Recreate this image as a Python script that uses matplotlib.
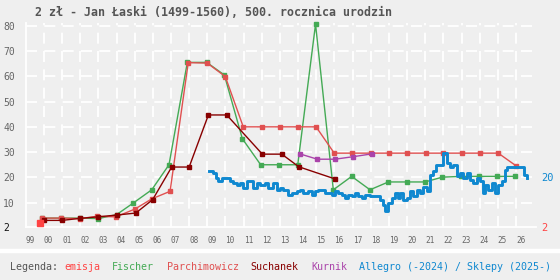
import matplotlib
matplotlib.use('Agg')
import matplotlib.pyplot as plt
from matplotlib.lines import Line2D

plt.rcParams['font.family'] = ['DejaVu Sans Mono', 'DejaVu Sans']
plt.rcParams['lines.scale_dashes'] = False

BG = '#efefef'
C_EMISJA = '#ff4444'
C_FISCHER = '#44aa55'
C_PARCH = '#e05050'
C_SUCH = '#880000'
C_KURNIK = '#aa44aa'
C_ALLEGRO = '#0f88d0'

title = "2 zł - Jan Łaski (1499-1560), 500. rocznica urodzin"

years = list(range(1999, 2027))
year_labels = ["%02d" % (y % 100) for y in years]
y_ticks = [10, 20, 30, 40, 50, 60, 70, 80]

emisja_x = [1999.8]
emisja_y = [2]

fischer_x = [1999.91, 2000.93, 2001.99, 2003.0, 2004.01, 2004.93, 2005.94, 2006.89,
             2007.9, 2008.97, 2009.94, 2010.93, 2011.94, 2012.96, 2013.98, 2014.96,
             2015.94, 2016.95, 2017.96, 2018.97, 2019.98, 2020.99, 2021.94, 2022.96,
             2023.98, 2024.97, 2025.93]
fischer_y = [3.9, 3.9, 3.9, 3.7, 5.3, 9.9, 15.1, 25.0,
             65.5, 65.5, 60.5, 35.3, 25.0, 25.0, 25.0, 80.6,
             15.1, 20.4, 15.1, 18.2, 18.2, 18.2, 20.1, 20.4,
             20.4, 20.4, 20.4]

parch_x = [1999.91, 2000.93, 2001.99, 2002.94, 2003.97, 2005.02, 2005.94, 2006.95,
           2007.95, 2009.0, 2009.99, 2010.98, 2011.99, 2013.0, 2014.0, 2014.99,
           2015.99, 2016.98, 2017.99, 2019.02, 2020.01, 2021.03, 2022.0, 2023.01,
           2024.0, 2025.02, 2025.98]
parch_y = [3.9, 3.9, 3.7, 4.6, 4.4, 7.5, 11.5, 14.5,
           65.4, 65.2, 59.9, 40.0, 40.0, 40.0, 40.0, 40.0,
           29.6, 29.6, 29.6, 29.6, 29.6, 29.6, 29.6, 29.6,
           29.6, 29.6, 24.7]

such_x = [2000.0, 2001.0, 2001.99, 2003.0, 2004.0, 2005.06, 2005.99, 2007.04, 2008.0,
          2009.06, 2010.07, 2012.03, 2013.1, 2014.04, 2016.03]
such_y = [3.0, 3.0, 3.8, 4.4, 5.1, 5.9, 11.2, 24.1, 24.1,
          44.7, 44.7, 29.2, 29.2, 24.2, 19.4]

kurnik_x = [2014.1, 2015.06, 2016.03, 2017.04, 2018.05]
kurnik_y = [29.3, 27.2, 27.2, 28.2, 29.3]

allegro_x = [2009.09, 2009.31, 2009.48, 2009.59, 2009.81, 2010.08, 2010.25, 2010.42, 2010.64, 2010.80,
             2010.97, 2011.19, 2011.35, 2011.52, 2011.74, 2011.90, 2012.18, 2012.34, 2012.62, 2012.84,
             2013.00, 2013.17, 2013.44, 2013.66, 2013.94, 2014.10, 2014.27, 2014.55, 2014.77, 2014.93,
             2015.10, 2015.32, 2015.48, 2015.65, 2015.87, 2016.03, 2016.20, 2016.42, 2016.58, 2016.75,
             2016.97, 2017.13, 2017.30, 2017.52, 2017.68, 2017.96, 2018.23, 2018.51, 2018.68, 2018.79,
             2018.95, 2019.17, 2019.34, 2019.50, 2019.61, 2019.78, 2020.00, 2020.16, 2020.33, 2020.55,
             2020.71, 2020.88, 2021.10, 2021.26, 2021.43, 2021.59, 2021.81, 2021.98, 2022.20, 2022.36,
             2022.53, 2022.75, 2022.91, 2023.08, 2023.30, 2023.46, 2023.63, 2023.85, 2024.02, 2024.18,
             2024.29, 2024.46, 2024.68, 2024.84, 2025.01, 2025.22, 2025.39, 2025.50, 2025.94, 2026.38,
             2026.44, 2026.60]
allegro_y = [22.4, 21.7, 19.8, 18.4, 19.8, 19.8, 18.4, 17.8, 17.1, 17.8,
             15.8, 18.4, 18.4, 15.8, 17.8, 17.1, 17.8, 15.8, 17.8, 15.1,
             15.8, 15.1, 13.2, 13.8, 14.5, 15.1, 13.8, 14.5, 13.2, 14.5,
             15.1, 15.1, 13.8, 13.8, 13.2, 14.5, 13.8, 13.2, 11.9, 13.2,
             12.5, 13.8, 12.5, 11.9, 13.2, 12.5, 12.5, 11.2, 9.2, 6.6,
             9.9, 11.9, 13.8, 11.9, 13.8, 11.2, 11.9, 14.5, 12.5, 15.1,
             13.8, 16.4, 14.5, 21.1, 22.4, 25.0, 25.0, 29.6, 25.7, 24.3,
             25.0, 20.4, 21.7, 19.8, 21.7, 19.1, 17.8, 19.8, 18.4, 13.8,
             17.1, 15.1, 17.8, 13.8, 17.1, 18.4, 23.0, 24.1, 24.1, 24.1,
             21.1, 19.8]

legend_parts = [("Legenda: ", '#555555'), ("emisja", C_EMISJA), ("  ", None),
                ("Fischer", C_FISCHER), ("  ", None), ("Parchimowicz", C_PARCH), ("  ", None),
                ("Suchanek", C_SUCH), ("  ", None), ("Kurnik", C_KURNIK), ("  ", None),
                ("Allegro (-2024) / Sklepy (2025-)", C_ALLEGRO)]

W, H = 560, 280
fig = plt.figure(figsize=(W / 100, H / 100), dpi=100, facecolor=BG)
ax = fig.add_axes([25.7 / W, 1 - 226.7 / H, (536 - 25.7) / W, (226.7 - 23.2) / H])
ax.set_facecolor(BG)
ax.set_xlim(1999, 2027.1)
ax.set_ylim(0.5, 81)

dash = (0, (7.9, 5.3))
for yv in y_ticks:
    ax.axhline(yv, color='white', lw=1.3, linestyle=dash, zorder=0.5)
for xv in years[1:]:
    ax.axvline(xv, color='white', lw=1.3, linestyle=dash, zorder=0.5)

for s in ['top', 'right']:
    ax.spines[s].set_visible(False)
for s in ['left', 'bottom']:
    ax.spines[s].set_color('white')
    ax.spines[s].set_linewidth(1.3)

# y ticks
ax.set_yticks([0.5] + y_ticks)
ax.set_yticklabels(["2"] + [str(v) for v in y_ticks])
ax.tick_params(axis='y', length=0, pad=16.3, labelsize=7, labelcolor='#666666')
for i, lab in enumerate(ax.get_yticklabels()):
    lab.set_horizontalalignment('left')
    if i == 0:
        lab.set_color('#111111')

# x ticks
ax.set_xticks(years)
ax.set_xticklabels(year_labels)
ax.tick_params(axis='x', length=0, pad=7, labelsize=5.6, labelcolor='#666666')
for lab in ax.get_xticklabels():
    lab.set_horizontalalignment('left')

mk = dict(marker='s', markersize=3, lw=1.0, clip_on=False)
ax.plot(fischer_x, fischer_y, color=C_FISCHER, zorder=3, **mk)
ax.plot(parch_x, parch_y, color=C_PARCH, zorder=3, **mk)
ax.plot(such_x, such_y, color=C_SUCH, zorder=4, **mk)
ax.plot(kurnik_x, kurnik_y, color=C_KURNIK, zorder=4, **mk)
ax.plot(allegro_x, allegro_y, color=C_ALLEGRO, lw=2.1, drawstyle='steps-post', zorder=5, clip_on=False)
ax.plot(emisja_x, emisja_y, 's', color=C_EMISJA, markersize=4.5, zorder=6, clip_on=False)

# right-side value labels
ax.text(2027.41, allegro_y[-1], "20", color=C_ALLEGRO, fontsize=7.5, va='center', ha='left', clip_on=False)
ax.text(2027.41, 0, "2", color=C_EMISJA, fontsize=7.5, va='center', ha='left', clip_on=False)

fig.text(35 / W, 1 - 12 / H, title, fontsize=8.4, fontweight='bold', color='#555555',
         ha='left', va='center')

# separator band
fig.add_artist(Line2D([0, 1], [1 - 250.8 / H, 1 - 250.8 / H], transform=fig.transFigure,
                      color='white', lw=3.2))

# legend
cw = 6.02
n = 0
for txt, col in legend_parts:
    if col is not None:
        fig.text((10 + n * cw) / W, 1 - 267 / H, txt, fontsize=7.2, color=col, ha='left', va='center')
    n += len(txt)

fig.savefig('out.png', dpi=100, facecolor=BG)
